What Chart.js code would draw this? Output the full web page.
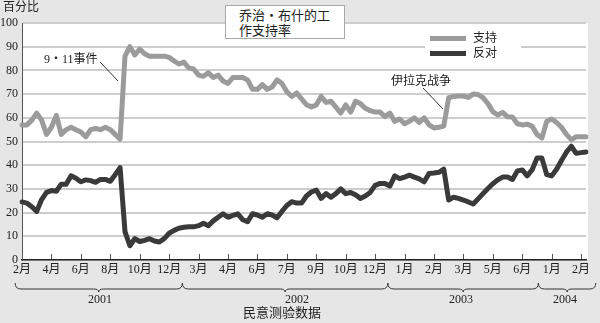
<!DOCTYPE html>
<html>
<head>
<meta charset="utf-8">
<script src="https://cdn.jsdelivr.net/npm/chart.js@4.4.1/dist/chart.umd.min.js"></script>
<style>
  html, body { margin:0; padding:0; background:#e6e6e6; }
  #wrap { position:relative; width:600px; height:323px; overflow:hidden; background:#e6e6e6;
          font-family:"Liberation Serif","Noto Sans CJK SC",serif; color:#222; }
  #c { position:absolute; left:0; top:0; }
  .t { position:absolute; white-space:nowrap; line-height:1; }
  #titlebox { position:absolute; left:225px; top:5px; width:118px; height:32px; background:#fff;
              border:1px solid #a8a8a8; }
  #legendbox { position:absolute; left:425px; top:28px; width:96px; height:36px; background:#fff; }
  .lg { position:absolute; height:5px; width:36px; }
</style>
</head>
<body>
<div id="wrap">
  <canvas id="c" width="600" height="323"></canvas>
  <div id="titlebox">
    <div class="t" style="left:13px;top:3px;font-size:13px;">乔治・布什的工</div>
    <div class="t" style="left:13px;top:18px;font-size:13px;">作支持率</div>
  </div>
  <div id="legendbox">
    <div class="lg" style="left:5px;top:8px;background:#9b9b9b;"></div>
    <div class="t" style="left:48px;top:4px;font-size:12px;">支持</div>
    <div class="lg" style="left:5px;top:23px;background:#3a3a3a;"></div>
    <div class="t" style="left:48px;top:19px;font-size:12px;">反对</div>
  </div>
  <div class="t" style="left:3px;top:1px;font-size:12px;">百分比</div>
  <div class="t" style="left:44px;top:53px;font-size:12px;">9・11事件</div>
  <div class="t" style="left:391px;top:75px;font-size:12px;">伊拉克战争</div>
  <div class="t" style="left:88px;top:293px;font-size:12px;">2001</div>
  <div class="t" style="left:285px;top:293px;font-size:12px;">2002</div>
  <div class="t" style="left:449px;top:293px;font-size:12px;">2003</div>
  <div class="t" style="left:553px;top:293px;font-size:12px;">2004</div>
  <div class="t" style="left:243px;top:306px;font-size:13px;">民意测验数据</div>
  <svg width="600" height="323" style="position:absolute;left:0;top:0;pointer-events:none">
    <g fill="none" stroke="#333" stroke-width="1">
      <line x1="100" y1="62" x2="118" y2="81"/>
      <line x1="423" y1="88" x2="443" y2="109"/>
      <path id="b1"/><path id="b2"/><path id="b3"/><path id="b4"/>
    </g>
  </svg>
</div>
<script>
// ---- data ----
const monthLabels = ['2月','4月','6月','8月','10月','12月','3月','4月','6月','7月',
                     '9月','10月','12月','1月','2月','3月','5月','6月','1月','2月'];
const yearLabels = ['2001','2002','2003','2004'];
const support = [
  57,57,59,62,59,53,56,61,53,55, 56,55,54,52,55,55.5,55,56,55,53,
  51,86,90,86.5,89,87,86,86,86,86, 85.5,84,82.7,83.5,81,80.6,78,77.5,79,77,
  78,75.5,74.5,77,77,77,76,72,72,74, 72,73,76,74.5,71,69,70.5,68,65.5,64.6,
  65.4,69,66.5,67,64.5,62,65.4,62.4,67,66, 64,63,62.4,62.4,60.5,62,58.5,59.5,57.5,58.5,
  60,58,60,57,55.7,56,56.5,68.5,69,69.2, 69.2,68.6,70,69.8,68.5,66,62.6,61.2,62.3,60.4,
  60.3,57.5,57,57.3,56.5,53,51.5,58.5,59.5,58, 56,53,50.8,52,52,52
];
const oppose = [
  24.5,24,22.5,20.5,25.5,28.5,29.3,29,32,32, 35.5,34.5,33,33.8,33.5,32.8,34,34,33.2,36,
  39,12,6,9,7.8,8.3,9,8,7.6,9, 11.3,12.5,13.4,13.8,14,14,14.5,15.5,14.5,16.5,
  18,19.5,18,18.8,19.5,17,16.2,19.5,19,18, 19.5,19,17.8,20.5,23,24.6,24,24,27,28.7,
  29.5,26,28,26.5,28,30,28,28.5,27.5,26, 27,28.5,31.5,32.3,32.3,31.2,35.5,34.3,35,35.8,
  35,34.2,33,36.5,36.7,37,38.3,25.3,26.5,26, 25.3,24.5,23.6,25.8,28,30.2,32.2,33.8,35,35,
  34,37.6,38,35.5,38,43,43,36,35.5,38.3, 42,45.5,48,45,45.3,45.6
];
const pointsPerLabel = 6;

// categories: one slot per poll, month name on every labelled slot
const categories = support.map((_, i) => (i % pointsPerLabel === 0 ? (monthLabels[i / pointsPerLabel] || '') : ''));

const bgPlugin = {
  id: 'bg',
  beforeDraw(chart) {
    const {ctx, chartArea: a} = chart;
    ctx.save();
    ctx.fillStyle = '#ffffff';
    ctx.fillRect(a.left, a.top, a.right - a.left + 2, a.bottom - a.top);
    ctx.restore();
  },
  afterDatasetsDraw(chart) {
    const {ctx, chartArea: a} = chart;
    const xs = chart.scales.x;
    ctx.save();
    ctx.strokeStyle = '#555';
    ctx.lineWidth = 1;
    for (let i = 0; i < categories.length; i += pointsPerLabel) {
      if (i === 0) continue;
      const x = Math.round(xs.getPixelForValue(i)) + 0.5;
      ctx.beginPath();
      ctx.moveTo(x, a.bottom - 1);
      ctx.lineTo(x, a.bottom - 6);
      ctx.stroke();
    }
    ctx.restore();
    // braces under the axis, from scale pixel positions
    const px = v => xs.getPixelForValue(v);
    const spans = [[-1.4, 32.7], [32.7, 74.6], [74.6, 105.3], [105.3, 117]];
    spans.forEach((s, k) => {
      const a1 = px(s[0]), b1 = px(s[1]), m = (a1 + b1) / 2;
      const d = `M${a1},283 Q${a1},289 ${a1+6},289 L${m-5},289 Q${m},289 ${m},292 Q${m},289 ${m+5},289 L${b1-6},289 Q${b1},289 ${b1},283`;
      document.getElementById('b' + (k + 1)).setAttribute('d', d);
    });
  }
};

new Chart(document.getElementById('c'), {
  type: 'line',
  data: {
    labels: categories,
    datasets: [
      { label: '支持', data: support, borderColor: '#9b9b9b', borderWidth: 5, pointRadius: 0,
        borderJoinStyle: 'round', borderCapStyle: 'round', tension: 0, fill: false },
      { label: '反对', data: oppose, borderColor: '#3a3a3a', borderWidth: 5, pointRadius: 0,
        borderJoinStyle: 'round', borderCapStyle: 'round', tension: 0, fill: false }
    ]
  },
  options: {
    responsive: false,
    animation: false,
    layout: { padding: { top: 23, right: 14, left: 0, bottom: 0 } },
    plugins: { legend: { display: false }, title: { display: false }, tooltip: { enabled: false } },
    scales: {
      x: {
        type: 'category',
        offset: false,
        grid: { display: false, drawTicks: false },
        border: { display: true, color: '#222', width: 1.5 },
        ticks: { autoSkip: false, maxRotation: 0, minRotation: 0, padding: 3, color: '#222',
                 font: { family: '"Liberation Serif","Noto Sans CJK SC"', size: 12 } },
        afterFit(s) { s.height = 63; }
      },
      y: {
        min: 0, max: 100,
        grid: { color: '#cdcdcd', lineWidth: 2, drawTicks: false },
        border: { display: true, color: '#555', width: 1 },
        ticks: { stepSize: 10, padding: 4, color: '#222',
                 font: { family: '"Liberation Serif"', size: 12 } },
        afterFit(s) { s.width = 22; }
      }
    }
  },
  plugins: [bgPlugin]
});
</script>
</body>
</html>
